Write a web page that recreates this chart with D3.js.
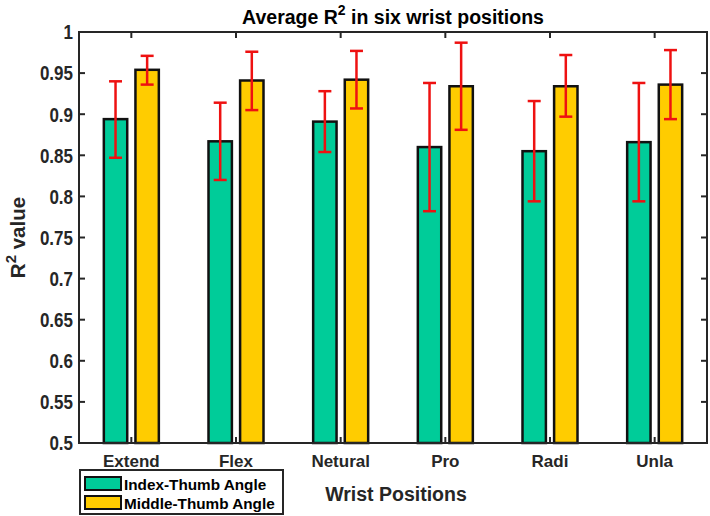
<!DOCTYPE html>
<html>
<head>
<meta charset="utf-8">
<script src="https://cdn.jsdelivr.net/npm/d3@7"></script>
<style>
  body { margin: 0; background: #fff; }
  text { font-family: Arial, "Liberation Sans", sans-serif; font-weight: bold; }
</style>
</head>
<body>
<div id="chart"></div>
<script>
'use strict'

const width = 710,
  height = 516;
const margin = {top: 32, right: 3, bottom: 73, left: 79};

const positions = ['Extend', 'Flex', 'Netural', 'Pro', 'Radi', 'Unla'];
const series = ['Index-Thumb Angle', 'Middle-Thumb Angle'];
const colors = ['#00cc99', '#ffcc00'];

// mean R^2 and error bar ends
const index_mean = [0.894, 0.867, 0.891, 0.860, 0.855, 0.866];
const index_lo   = [0.847, 0.820, 0.854, 0.782, 0.794, 0.794];
const index_hi   = [0.940, 0.914, 0.928, 0.938, 0.916, 0.938];
const middle_mean = [0.954, 0.941, 0.942, 0.934, 0.934, 0.936];
const middle_lo   = [0.936, 0.905, 0.907, 0.881, 0.897, 0.894];
const middle_hi   = [0.971, 0.976, 0.977, 0.987, 0.972, 0.978];

const y_ticks = [0.5, 0.55, 0.6, 0.65, 0.7, 0.75, 0.8, 0.85, 0.9, 0.95, 1];

const data = positions.map((p, i) => ({
  pos: p,
  values: [
    {s: 0, v: index_mean[i], lo: index_lo[i], hi: index_hi[i]},
    {s: 1, v: middle_mean[i], lo: middle_lo[i], hi: middle_hi[i]}
  ]
}));

const svg = d3.select('#chart')
  .append('svg')
  .attr('width', width)
  .attr('height', height);

const x = d3.scaleBand()
  .domain(positions)
  .range([margin.left, width - margin.right])
  .padding(0);
const xs = d3.scaleBand()
  .domain([0, 1])
  .range([-27.5, 27.5])
  .paddingInner(0.26);
const y = d3.scaleLinear()
  .domain([0.5, 1])
  .range([height - margin.bottom, margin.top]);

const x0 = margin.left, x1 = width - margin.right;
const y0 = height - margin.bottom, y1 = margin.top;
const axis_color = '#262626';

// ticks (inside), drawn first so bars overlap them
const tick_len = 6;
const ticks = svg.append('g')
  .attr('stroke', axis_color)
  .attr('stroke-width', 2);
ticks.selectAll('.yl').data(y_ticks).join('line')
  .attr('x1', x0).attr('x2', x0 + tick_len)
  .attr('y1', d => y(d)).attr('y2', d => y(d));
ticks.selectAll('.yr').data(y_ticks).join('line')
  .attr('x1', x1).attr('x2', x1 - tick_len)
  .attr('y1', d => y(d)).attr('y2', d => y(d));
ticks.selectAll('.xb').data(positions).join('line')
  .attr('x1', d => x(d) + x.bandwidth()/2).attr('x2', d => x(d) + x.bandwidth()/2)
  .attr('y1', y0).attr('y2', y0 - tick_len);
ticks.selectAll('.xt').data(positions).join('line')
  .attr('x1', d => x(d) + x.bandwidth()/2).attr('x2', d => x(d) + x.bandwidth()/2)
  .attr('y1', y1).attr('y2', y1 + tick_len);

// bars
const group = svg.append('g')
  .selectAll('g')
  .data(data)
  .join('g')
  .attr('transform', d => `translate(${x(d.pos) + x.bandwidth()/2},0)`);

group.selectAll('rect')
  .data(d => d.values)
  .join('rect')
  .attr('x', d => xs(d.s))
  .attr('width', xs.bandwidth())
  .attr('y', d => y(d.v))
  .attr('height', d => y(0.5) - y(d.v))
  .attr('fill', d => colors[d.s])
  .attr('stroke', '#111')
  .attr('stroke-width', 2.5);

// error bars
const cap = 6.5;
const err = group.selectAll('g.err')
  .data(d => d.values)
  .join('g')
  .attr('class', 'err')
  .attr('stroke', '#ee1111')
  .attr('stroke-width', 2.5);
err.append('line')
  .attr('x1', d => xs(d.s) + xs.bandwidth()/2)
  .attr('x2', d => xs(d.s) + xs.bandwidth()/2)
  .attr('y1', d => y(d.lo))
  .attr('y2', d => y(d.hi));
err.append('line')
  .attr('x1', d => xs(d.s) + xs.bandwidth()/2 - cap)
  .attr('x2', d => xs(d.s) + xs.bandwidth()/2 + cap)
  .attr('y1', d => y(d.hi)).attr('y2', d => y(d.hi));
err.append('line')
  .attr('x1', d => xs(d.s) + xs.bandwidth()/2 - cap)
  .attr('x2', d => xs(d.s) + xs.bandwidth()/2 + cap)
  .attr('y1', d => y(d.lo)).attr('y2', d => y(d.lo));

// axes box
svg.append('rect')
  .attr('x', x0).attr('y', y1)
  .attr('width', x1 - x0).attr('height', y0 - y1)
  .attr('fill', 'none')
  .attr('stroke', axis_color)
  .attr('stroke-width', 2);

// tick labels (y labels are a bit taller than wide in the original)
svg.append('g')
  .selectAll('text')
  .data(y_ticks)
  .join('text')
  .attr('transform', d => `translate(${x0 - 6},${y(d)}) scale(1,1.2)`)
  .attr('dy', '0.36em')
  .attr('text-anchor', 'end')
  .attr('font-size', 17)
  .attr('fill', axis_color)
  .text(d => d3.format('')(d));

svg.append('g')
  .selectAll('text')
  .data(positions)
  .join('text')
  .attr('x', d => x(d) + x.bandwidth()/2)
  .attr('y', 467)
  .attr('text-anchor', 'middle')
  .attr('font-size', 17)
  .attr('fill', axis_color)
  .text(d => d);

// title
const title = svg.append('text')
  .attr('x', (x0 + x1)/2)
  .attr('y', 24)
  .attr('text-anchor', 'middle')
  .attr('font-size', 19.5)
  .attr('fill', '#000');
title.append('tspan').text('Average R');
title.append('tspan').attr('dy', -9).attr('font-size', 14).text('2');
title.append('tspan').attr('dy', 9).text(' in six wrist positions');

// axis labels
const ylab = svg.append('text')
  .attr('transform', `translate(25,${(y0 + y1)/2}) rotate(-90)`)
  .attr('text-anchor', 'middle')
  .attr('font-size', 20.5)
  .attr('fill', axis_color);
ylab.append('tspan').text('R');
ylab.append('tspan').attr('dy', -9).attr('font-size', 15).text('2');
ylab.append('tspan').attr('dy', 9).text(' value');

svg.append('text')
  .attr('x', 396)
  .attr('y', 501)
  .attr('text-anchor', 'middle')
  .attr('font-size', 19.5)
  .attr('fill', axis_color)
  .text('Wrist Positions');

// legend
const legend = svg.append('g');
legend.append('rect')
  .attr('x', 80).attr('y', 470)
  .attr('width', 203).attr('height', 44)
  .attr('fill', '#fff')
  .attr('stroke', axis_color)
  .attr('stroke-width', 2);
const item = legend.selectAll('g')
  .data(series)
  .join('g')
  .attr('transform', (d, i) => `translate(0,${477 + i*19})`);
item.append('rect')
  .attr('x', 85).attr('y', 0)
  .attr('width', 36).attr('height', 13)
  .attr('fill', (d, i) => colors[i])
  .attr('stroke', '#111')
  .attr('stroke-width', 2);
item.append('text')
  .attr('x', 124)
  .attr('y', 12.5)
  .attr('font-size', 15.3)
  .attr('fill', '#000')
  .text(d => d);
</script>
</body>
</html>
